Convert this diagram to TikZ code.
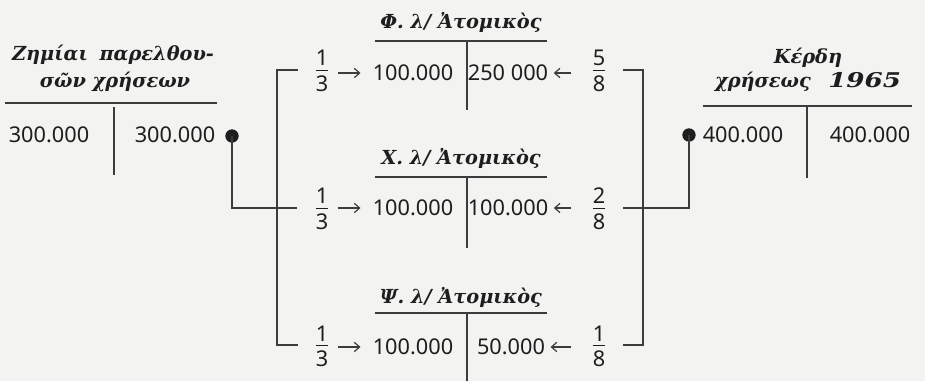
\documentclass[tikz,border=0pt]{standalone}
\usepackage{fontspec}
\usepackage{graphicx}
\setmainfont{Noto Sans}
\newfontfamily\ttlfont{DejaVu Serif}
\usetikzlibrary{arrows.meta}
\definecolor{bg}{RGB}{243,243,241}
\definecolor{ink}{RGB}{30,30,30}
\definecolor{ln}{RGB}{60,60,60}
\setlength\arrayrulewidth{0.8pt}
\newcommand\fr[2]{{\renewcommand\arraystretch{0}\begin{tabular}{@{}c@{}}\rule[-3pt]{0pt}{20.3pt}#1\\\hline\rule[-4pt]{0pt}{19.5pt}#2\end{tabular}}}
\begin{document}
\begin{tikzpicture}[x=0.75pt,y=-0.75pt,
  val/.style={inner sep=0pt, text=ink, font=\fontsize{16.3}{19}\selectfont},
  ttl/.style={inner sep=0pt, text=ink, align=center, font=\ttlfont\bfseries\itshape\fontsize{14.5}{17}\selectfont},
  rl/.style={draw=ln, line width=1.1pt},
  arr/.style={draw=ln, line width=0.9pt, -{Straight Barb[length=4pt,width=7pt]}},
  blob/.style={circle, fill=ink, inner sep=0pt, minimum size=10pt}]
\useasboundingbox[fill=bg] (0,0) rectangle (925,381);

% left account
\node[ttl] (zt1) at (113,55) {Ζημίαι\hspace{0.6em}παρελθου-};
\node[ttl] (zt2) at (115,82) {σῶν χρήσεων};
\coordinate (zl1) at (5,103); \coordinate (zl2) at (217,103);
\coordinate (zv1) at (114,107); \coordinate (zv2) at (114,175);
\draw[rl] (zl1) -- (zl2);
\draw[rl] (zv1) -- (zv2);
\node[val] (zd) at (49,135) {300.000};
\node[val] (zc) at (175,135) {300.000};

% right account
\node[ttl] (kt1) at (808,58) {Κέρδη};
\node[ttl] (kt2) at (808,82) {χρήσεως\hspace{0.9em}\scalebox{1.35}[1.05]{1965}};
\coordinate (kl1) at (703,106); \coordinate (kl2) at (912,106);
\coordinate (kv1) at (807,106); \coordinate (kv2) at (807,178);
\draw[rl] (kl1) -- (kl2);
\draw[rl] (kv1) -- (kv2);
\node[val] (kd) at (743,135) {400.000};
\node[val] (kc) at (870,135) {400.000};

% Phi account
\node[ttl] (pt) at (461,22) {Φ. λ/ Ἀτομικὸς};
\coordinate (pl1) at (375,41); \coordinate (pl2) at (547,41);
\coordinate (pv1) at (467,41); \coordinate (pv2) at (467,110);
\draw[rl] (pl1) -- (pl2);
\draw[rl] (pv1) -- (pv2);
\node[val] (p1) at (413,73) {100.000};
\node[val] (p2) at (508,73) {250 000};
\node[val] (pf) at (322,70) {\fr{1}{3}};
\node[val] (pg) at (599,70) {\fr{5}{8}};

% Chi account
\node[ttl] (xt) at (461,158) {Χ. λ/ Ἀτομικὸς};
\coordinate (xl1) at (375,177); \coordinate (xl2) at (547,177);
\coordinate (xv1) at (467,177); \coordinate (xv2) at (467,248);
\draw[rl] (xl1) -- (xl2);
\draw[rl] (xv1) -- (xv2);
\node[val] (x1) at (413,208) {100.000};
\node[val] (x2) at (508,208) {100.000};
\node[val] (xf) at (322,208) {\fr{1}{3}};
\node[val] (xg) at (599,208) {\fr{2}{8}};

% Psi account
\node[ttl] (st) at (461,297) {Ψ. λ/ Ἀτομικὸς};
\coordinate (sl1) at (375,313); \coordinate (sl2) at (547,313);
\coordinate (sv1) at (467,313); \coordinate (sv2) at (467,381);
\draw[rl] (sl1) -- (sl2);
\draw[rl] (sv1) -- (sv2);
\node[val] (s1) at (413,347) {100.000};
\node[val] (s2) at (511,347) {50.000};
\node[val] (sf) at (322,345) {\fr{1}{3}};
\node[val] (sg) at (599,345) {\fr{1}{8}};

% arrows
\foreach \f/\v in {pf/p1, xf/x1, sf/s1}
  \draw[arr, shorten <=7pt, shorten >=9pt] (\f.east |- \v.west) -- (\v.west);
\foreach \g/\v in {pg/p2, xg/x2, sg/s2}
  \draw[arr, shorten <=16pt, shorten >=4pt] (\g.west |- \v.east) -- (\v.east);

% brackets
\coordinate (LT) at (298,70); \coordinate (LC) at (277,70); \coordinate (LB) at (298,345);
\coordinate (LM) at (297,208);
\coordinate (RT) at (623,70); \coordinate (RC) at (643,70); \coordinate (RB) at (623,345);
\coordinate (RM) at (623,208);
\draw[rl] (LT) -- (LC) |- (LB);
\draw[rl] (RT) -- (RC) |- (RB);
\node[blob] (dotL) at (232,136) {};
\node[blob] (dotR) at (689,135) {};
\draw[rl] (dotL.center) |- (LM);
\draw[rl] (dotR.center) |- (RM);
\end{tikzpicture}
\end{document}
